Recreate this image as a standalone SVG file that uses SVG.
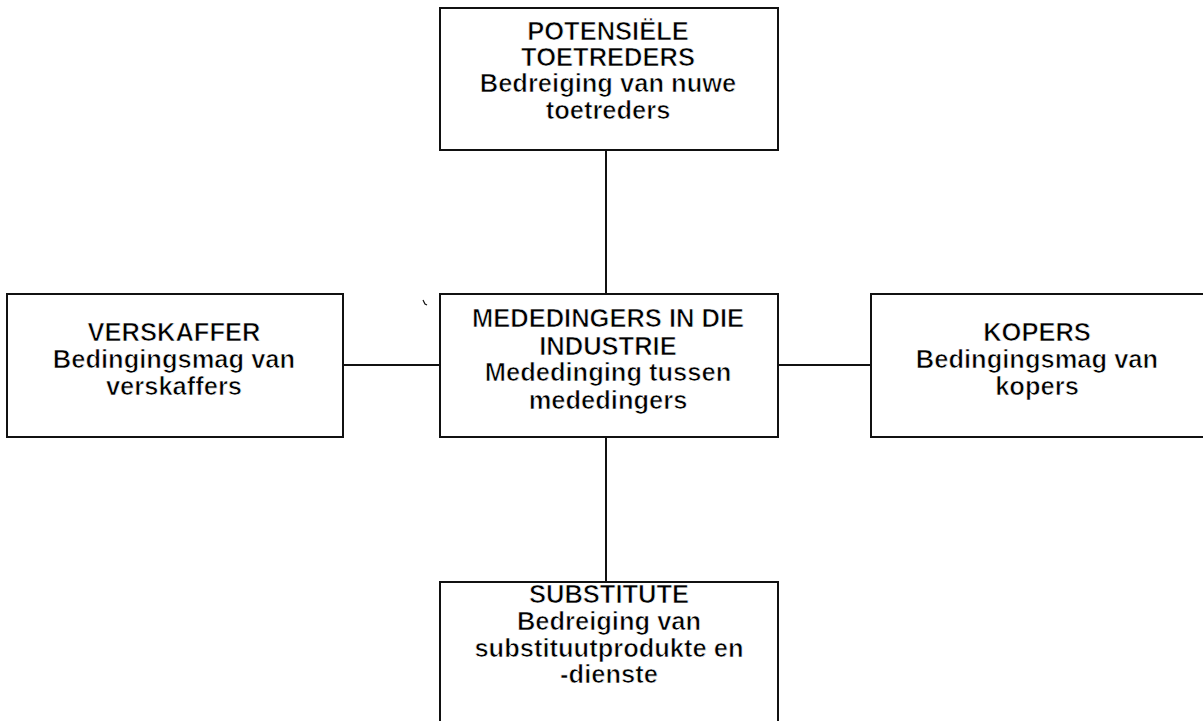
<svg xmlns="http://www.w3.org/2000/svg" width="1203" height="721" viewBox="0 0 1203 721">
<style>
.box{fill:#fff;stroke:#111;stroke-width:2}
.con{stroke:#111;stroke-width:2;fill:none}
text{font-family:"Liberation Sans",Arial,sans-serif;font-size:25.5px;font-weight:bold;fill:#000;stroke:#fff;stroke-width:0.7;text-anchor:middle}
</style>
<rect width="1203" height="721" fill="#fff"/>
<g id="connectors">
<line class="con" x1="606" y1="150" x2="606" y2="294"/>
<line class="con" x1="606" y1="437" x2="606" y2="582"/>
<line class="con" x1="343" y1="365" x2="440" y2="365"/>
<line class="con" x1="778" y1="365" x2="871" y2="365"/>
</g>
<g id="potensiele">
<rect class="box" x="440" y="8" width="338" height="142"/>
<text x="608" y="40">POTENSIËLE</text>
<text x="608" y="66">TOETREDERS</text>
<text x="608" y="92">Bedreiging van nuwe</text>
<text x="608" y="119">toetreders</text>
</g>
<g id="verskaffer">
<rect class="box" x="7" y="294" width="336" height="143"/>
<text x="174" y="341">VERSKAFFER</text>
<text x="174" y="368">Bedingingsmag van</text>
<text x="174" y="395">verskaffers</text>
</g>
<g id="mededingers">
<rect class="box" x="440" y="294" width="338" height="143"/>
<text x="608" y="327">MEDEDINGERS IN DIE</text>
<text x="608" y="355">INDUSTRIE</text>
<text x="608" y="381">Mededinging tussen</text>
<text x="608" y="409">mededingers</text>
</g>
<g id="kopers">
<rect class="box" x="871" y="294" width="345" height="143"/>
<text x="1037" y="341">KOPERS</text>
<text x="1037" y="368">Bedingingsmag van</text>
<text x="1037" y="395">kopers</text>
</g>
<g id="substitute">
<rect class="box" x="440" y="582" width="338" height="150"/>
<text x="609" y="603">SUBSTITUTE</text>
<text x="609" y="630">Bedreiging van</text>
<text x="609" y="657">substituutprodukte en</text>
<text x="609" y="683">-dienste</text>
</g>
<path d="M423 300 L425 304 L427 305" stroke="#111" stroke-width="1.2" fill="none"/>
</svg>
